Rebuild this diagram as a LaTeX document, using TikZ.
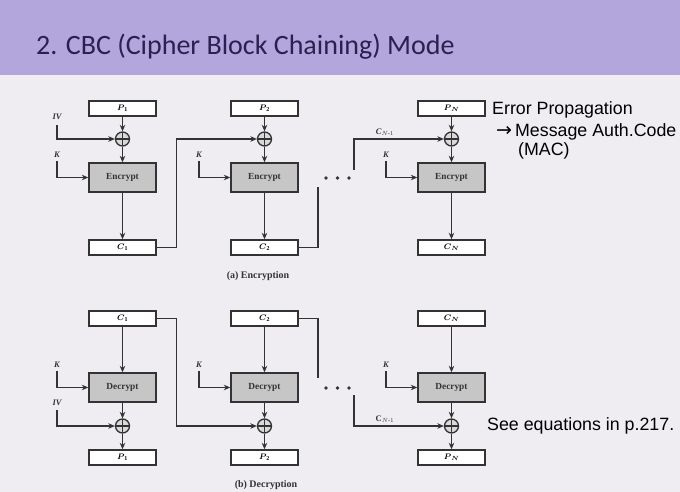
\documentclass[tikz,border=0pt]{standalone}
\usepackage{amsmath}
\usepackage{fontspec}
\setmainfont{Liberation Serif}
\newfontfamily\titlefont{Carlito}
\newfontfamily\notefont{Liberation Sans}
\newfontfamily\symfont{DejaVu Sans}
\usetikzlibrary{arrows.meta}
\definecolor{band}{HTML}{B3A6DC}
\definecolor{bgc}{HTML}{EFEDF2}
\definecolor{titlec}{HTML}{2B2050}
\definecolor{ln}{HTML}{333333}
\tikzset{
  x=1pt,y=-1pt,
  wire/.style={draw=ln,line width=1.4pt},
  arr/.style={wire,-{Stealth[length=6.5pt,width=5.5pt]}},
  txtbox/.style={draw=ln,line width=1.4pt,fill=white,minimum width=67pt,minimum height=15pt,inner sep=0pt,font=\bfseries\itshape\fontsize{8.5}{8.5}\selectfont},
  cipherbox/.style={draw=ln,line width=1.4pt,fill=gray!45,minimum width=67pt,minimum height=29pt,inner sep=0pt,font=\bfseries\fontsize{9.3}{10}\selectfont,text=ln},
  xorgate/.style={circle,draw=ln,line width=1.3pt,fill=gray!30,minimum size=14pt,inner sep=0pt,
    path picture={\draw[ln,line width=1.2pt] (path picture bounding box.north) -- (path picture bounding box.south) (path picture bounding box.west) -- (path picture bounding box.east);}},
  lbl/.style={font=\bfseries\itshape\fontsize{8.5}{8.5}\selectfont,inner sep=0pt,text=ln},
  captext/.style={font=\bfseries\fontsize{10}{11}\selectfont,inner sep=0pt,text=ln},
  note/.style={font=\notefont\fontsize{17.8}{19}\selectfont,inner sep=0pt,anchor=west},
  dotmark/.style={circle,fill=ln,inner sep=0pt,minimum size=3.6pt}
}
\begin{document}
\begin{tikzpicture}
\useasboundingbox (0,0) rectangle (680,492);
\fill[bgc] (0,0) rectangle (680,492);
\fill[band] (0,0) rectangle (680,75);
\node[anchor=west,inner sep=0pt,text=titlec,font=\titlefont\fontsize{28}{30}\selectfont] (title) at (36,47) {2. CBC (Cipher Block Chaining) Mode};

% ---------- Encryption ----------
\node[txtbox] (ep1) at (122.5,108.5) {$\boldsymbol{P}_{\mathbf 1}$};
\node[txtbox] (ep2) at (264.5,108.5) {$\boldsymbol{P}_{\mathbf 2}$};
\node[txtbox] (epn) at (451.5,108.5) {$\boldsymbol{P}_{\boldsymbol N}$};
\node[xorgate] (ex1) at (122.5,139) {};
\node[xorgate] (ex2) at (264.5,139) {};
\node[xorgate] (exn) at (451.5,139) {};
\node[cipherbox] (enc1) at (122.5,177.5) {Encrypt};
\node[cipherbox] (enc2) at (264.5,177.5) {Encrypt};
\node[cipherbox] (encn) at (451.5,177.5) {Encrypt};
\node[txtbox] (ec1) at (122.5,247.5) {$\boldsymbol{C}_{\mathbf 1}$};
\node[txtbox] (ec2) at (264.5,247.5) {$\boldsymbol{C}_{\mathbf 2}$};
\node[txtbox] (ecn) at (451.5,247.5) {$\boldsymbol{C}_{\boldsymbol N}$};

\node[lbl] (eiv) at (57,117) {IV};
\node[lbl] (ek1) at (57,155) {K};
\node[lbl] (ek2) at (199,155) {K};
\node[lbl] (ekn) at (386,155) {K};
\node[lbl] (ecnm) at (385,132) {C$_{N\text{-}1}$};

\foreach \c in {1,2,n} {
  \draw[arr] (ep\c) -- (ex\c);
  \draw[arr] (ex\c) -- (enc\c);
  \draw[arr] (enc\c) -- (ec\c);
}
\draw[arr] ([yshift=-5pt]eiv.south) |- (ex1.west);
\draw[arr] ([yshift=-3pt]ek1.south) |- (enc1.west);
\draw[arr] ([yshift=-3pt]ek2.south) |- (enc2.west);
\draw[arr] ([yshift=-3pt]ekn.south) |- (encn.west);
\draw[arr] (ec1.east) -- ++(20,0) |- (ex2.west);
\coordinate (e2end) at (318,187);
\draw[wire] (ec2.east) -| (e2end);
\coordinate (enstart) at (354,170);
\draw[arr] (enstart) |- (exn.west);
\node[dotmark] (ed1) at (326,178) {};
\node[dotmark] (ed2) at (337.5,178) {};
\node[dotmark] (ed3) at (349,178) {};
\node[captext] (capa) at (258,276) {(a) Encryption};

% ---------- Decryption ----------
\node[txtbox] (dc1) at (122.5,318.5) {$\boldsymbol{C}_{\mathbf 1}$};
\node[txtbox] (dc2) at (264.5,318.5) {$\boldsymbol{C}_{\mathbf 2}$};
\node[txtbox] (dcn) at (451.5,318.5) {$\boldsymbol{C}_{\boldsymbol N}$};
\node[cipherbox] (dec1) at (122.5,387.5) {Decrypt};
\node[cipherbox] (dec2) at (264.5,387.5) {Decrypt};
\node[cipherbox] (decn) at (451.5,387.5) {Decrypt};
\node[xorgate] (dx1) at (122.5,426) {};
\node[xorgate] (dx2) at (264.5,426) {};
\node[xorgate] (dxn) at (451.5,426) {};
\node[txtbox] (dp1) at (122.5,457.5) {$\boldsymbol{P}_{\mathbf 1}$};
\node[txtbox] (dp2) at (264.5,457.5) {$\boldsymbol{P}_{\mathbf 2}$};
\node[txtbox] (dpn) at (451.5,457.5) {$\boldsymbol{P}_{\boldsymbol N}$};

\node[lbl] (dk1) at (57,365) {K};
\node[lbl] (dk2) at (199,365) {K};
\node[lbl] (dkn) at (386,365) {K};
\node[lbl] (div) at (57,403) {IV};
\node[font=\bfseries\fontsize{8.5}{8.5}\selectfont,inner sep=0pt,text=ln] (dcnm) at (385,419) {C$_{N\text{-}1}$};

\foreach \c in {1,2,n} {
  \draw[arr] (dc\c) -- (dec\c);
  \draw[arr] (dec\c) -- (dx\c);
  \draw[arr] (dx\c) -- (dp\c);
}
\draw[arr] ([yshift=-4pt]div.south) |- (dx1.west);
\draw[arr] ([yshift=-3pt]dk1.south) |- (dec1.west);
\draw[arr] ([yshift=-3pt]dk2.south) |- (dec2.west);
\draw[arr] ([yshift=-3pt]dkn.south) |- (decn.west);
\draw[arr] (dc1.east) -- ++(20,0) |- (dx2.west);
\coordinate (d2end) at (318,378);
\draw[wire] (dc2.east) -| (d2end);
\coordinate (dnstart) at (354,395);
\draw[arr] (dnstart) |- (dxn.west);
\node[dotmark] (dd1) at (326,388) {};
\node[dotmark] (dd2) at (337.5,388) {};
\node[dotmark] (dd3) at (349,388) {};
\node[captext] (capb) at (266,485) {(b) Decryption};

% ---------- notes ----------
\node[note] (n1) at (492,110) {Error Propagation};
\node[note] (n2) at (496,132) {{\symfont\fontsize{19}{19}\selectfont →}\hspace{3pt}Message Auth.Code};
\node[note] (n3) at (518,151) {(MAC)};
\node[note] (n4) at (487,426) {See equations in p.217.};
\end{tikzpicture}
\end{document}
